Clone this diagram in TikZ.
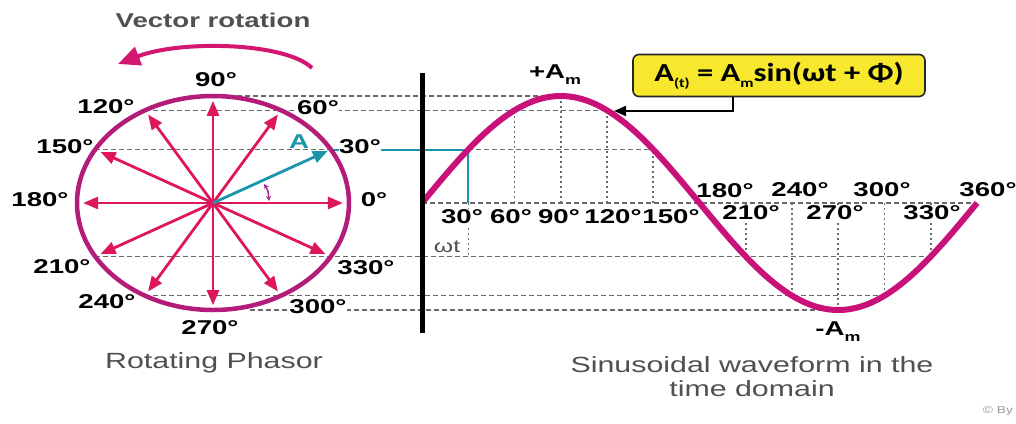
\documentclass[tikz,border=0pt]{standalone}
\usepackage{fontspec}
\usetikzlibrary{arrows.meta}
\newfontfamily\hv[FakeStretch=1.38]{Liberation Sans}
\newfontfamily\eqf[FakeStretch=1.25]{Carlito}
\definecolor{ringc}{RGB}{180,28,122}
\definecolor{spokec}{RGB}{222,22,92}
\definecolor{wavec}{RGB}{200,18,122}
\definecolor{rotc}{RGB}{212,22,112}
\definecolor{markc}{RGB}{160,40,150}
\definecolor{phAc}{RGB}{25,150,170}
\definecolor{gridc}{RGB}{105,105,105}
\definecolor{txtc}{RGB}{80,80,80}
\definecolor{boxc}{RGB}{247,232,45}
\newcommand\lowsub[1]{\raisebox{-6pt}{\fontsize{13}{13}\selectfont #1}}

\begin{document}
\begin{tikzpicture}[x=1pt,y=-1pt,
  deg/.style={font=\hv\bfseries\fontsize{20}{22}\selectfont, fill=white, inner sep=0.5pt},
  captxt/.style={font=\hv\fontsize{22}{24}\selectfont, text=txtc, align=center},
  hline/.style={gridc, line width=1.3pt, dash pattern=on 5pt off 3pt},
  vline/.style={gridc, line width=1.6pt, dash pattern=on 2pt off 3pt},
  spokearrow/.style={spokec, line width=2.8pt, -{Triangle[length=15pt,width=12pt]}}]
\useasboundingbox (0,0) rectangle (1016,423);
\fill[white] (0,0) rectangle (1016,423);
\coordinate (O) at (213,203);

\foreach \a/\b in {90/90,120/120,210/330,240/300}
  \draw[hline] ({213+136*cos(\a)},{203-107*sin(\a)}) -- ({422+1.5417*\b},{203-107*sin(\a)});
\draw[hline] (250,310) -- (838.3,310);
\draw[hline] (95.2,149.5) -- (330.8,149.5);
\draw[hline] (468.3,149.5) -- (653.3,149.5);
\draw[hline] (422,203) -- (977,203);
\foreach \t in {60,90,120,150,210,240,270,300,330}
  \draw[vline] ({422+1.5417*\t},203) -- ({422+1.5417*\t},{203-107*sin(\t)});
\draw[vline] (468.3,203) -- (468.3,256.5);
\draw[phAc, line width=2pt] (330.8,149.5) -- (468.3,149.5) -- (468.3,203);

\foreach \t/\x/\y in {90/216/80,120/106/107,60/318/108,150/65/147,30/360/147,180/40/200,
    0/374/200,210/62/267,330/366/268,240/107/302,300/318/307,270/210/328}
  \node[deg] (c\t) at (\x,\y) {\t°};
\foreach \t/\x/\y in {30/462/217,60/511/217,90/559/217,120/613/217,150/671/217,210/751/213,
    270/835/213,330/932/213,180/725/191,240/800/190,300/882/190,360/988/190}
  \node[deg] (w\t) at (\x,\y) {\t°};
\node[deg, fill=none, text=phAc] (lA) at (299,142) {A};
\node[deg, fill=none] (amax) at (555,75) {+A\lowsub{m}};
\node[deg, fill=none] (amin) at (838,332) {-A\lowsub{m}};
\node[captxt, font=\hv\fontsize{18}{20}\selectfont] (wt) at (447,247) {ωt};
\node[captxt, font=\hv\bfseries\fontsize{20}{24}\selectfont] (title) at (213,20) {Vector rotation};
\node[captxt] (phcap) at (214,363) {Rotating Phasor};
\node[captxt] (wvcap) at (752,377) {Sinusoidal waveform in the\\time domain};
\node[font=\hv\fontsize{10}{11}\selectfont, text=black!40] (credit) at (998,411) {© By};

\foreach \a in {0,60,90,120,150,180,210,240,270,300,330}{
  \coordinate (p\a) at ({213+0.955*136*cos(\a)},{203-0.955*107*sin(\a)});
  \draw[spokearrow] (O) -- (p\a);
}
\coordinate (pA) at ({213+0.975*136*cos(30)},{203-0.975*107*sin(30)});
\draw[spokearrow, phAc] (O) -- (pA);
\draw[ringc, line width=4.5pt] (O) ellipse [x radius=136, y radius=107];
\coordinate (m1) at (264,184);
\coordinate (m2) at (269,201);
\draw[markc, line width=1.5pt, {Stealth[length=5pt,width=5pt]}-{Stealth[length=5pt,width=5pt]}] (m1) .. controls (268,190) .. (m2);
\coordinate (r1) at (312,68);
\coordinate (r2) at (118,64);
\draw[rotc, line width=4pt, -{Triangle[length=22pt,width=19pt]}] (r1) .. controls (285,42) and (180,40) .. (r2);

\draw[wavec, line width=6pt] plot[domain=0:360, samples=91, smooth] ({422+1.5417*\x},{203-107*sin(\x)});
\draw[line width=5pt] (422,73) -- (422,333);

\node[draw=black!85, line width=1.6pt, fill=boxc, rounded corners=6pt, minimum width=292pt,
  minimum height=42pt, font=\eqf\bfseries\fontsize{26}{28}\selectfont] (eq) at (779,75.5)
  {A\lowsub{(t)} = A\lowsub{m}sin(ωt + Φ)};
\coordinate (hit) at (614,111);
\draw[line width=2pt, -{Triangle[length=12pt,width=10pt]}] ([xshift=-46pt]eq.south) |- (hit);
\end{tikzpicture}
\end{document}
